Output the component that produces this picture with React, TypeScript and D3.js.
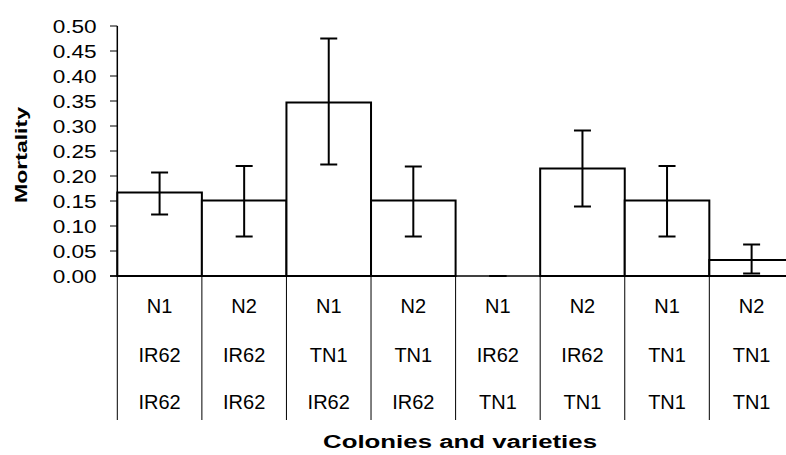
import { useEffect, useRef } from 'react'
import * as d3 from 'd3'

const colonies = ['N1', 'N2', 'N1', 'N2', 'N1', 'N2', 'N1', 'N2']
const rearedOn = ['IR62', 'IR62', 'TN1', 'TN1', 'IR62', 'IR62', 'TN1', 'TN1']
const testedOn = ['IR62', 'IR62', 'IR62', 'IR62', 'TN1', 'TN1', 'TN1', 'TN1']
const mortality = [0.167, 0.151, 0.347, 0.151, 0, 0.215, 0.151, 0.032]
const lower = [0.123, 0.079, 0.223, 0.079, 0, 0.139, 0.079, 0.005]
const upper = [0.207, 0.22, 0.475, 0.219, 0, 0.291, 0.22, 0.063]
const yTicks = [0, 0.05, 0.1, 0.15, 0.2, 0.25, 0.3, 0.35, 0.4, 0.45, 0.5]

const W = 786
const H = 455
const FONT = '"Liberation Sans", Arial, sans-serif'

export default function App() {
  const ref = useRef<SVGSVGElement>(null)

  useEffect(() => {
    const el = ref.current
    if (!el) return
    const svg = d3.select(el)
    svg.selectAll('*').remove()

    const x = d3.scaleBand<number>().domain(d3.range(colonies.length)).range([117.3, 793.9]).padding(0)
    const y = d3.scaleLinear().domain([0, 0.5]).range([276, 26])
    const x0 = 117.3

    // bars
    svg.append('g').selectAll('rect').data(mortality).join('rect')
      .attr('x', (_, i) => x(i)!)
      .attr('y', d => y(d))
      .attr('width', x.bandwidth())
      .attr('height', d => y(0) - y(d))
      .attr('fill', '#fff').attr('stroke', '#000').attr('stroke-width', 2)

    // table lines below the axis
    const bounds = d3.range(colonies.length).map(i => x(i)!)
    svg.append('g').selectAll('line').data(bounds).join('line')
      .attr('x1', d => d).attr('x2', d => d)
      .attr('y1', y(0)).attr('y2', 420)
      .attr('stroke', '#000').attr('stroke-width', 1)

    // y axis
    svg.append('line').attr('x1', x0).attr('x2', x0).attr('y1', y(0.5)).attr('y2', y(0))
      .attr('stroke', '#000').attr('stroke-width', 1.5)
    svg.append('line').attr('x1', 110).attr('x2', W).attr('y1', y(0)).attr('y2', y(0))
      .attr('stroke', '#000').attr('stroke-width', 1.5)

    const ticks = svg.append('g')
    ticks.selectAll('line').data(yTicks).join('line')
      .attr('x1', 110).attr('x2', x0).attr('y1', d => y(d)).attr('y2', d => y(d))
      .attr('stroke', '#000').attr('stroke-width', 1)
    ticks.selectAll('text').data(yTicks).join('text')
      .attr('x', 96.7).attr('y', d => y(d) + 6.5)
      .attr('text-anchor', 'end')
      .attr('font-family', FONT).attr('font-size', 18.5)
      .attr('textLength', 44).attr('lengthAdjust', 'spacingAndGlyphs')
      .text(d => d3.format('.2f')(d))

    // error bars
    const err = svg.append('g').attr('stroke', '#000').attr('stroke-width', 2)
    mortality.forEach((_, i) => {
      const cx = x(i)! + x.bandwidth() / 2
      err.append('line').attr('x1', cx).attr('x2', cx).attr('y1', y(lower[i])).attr('y2', y(upper[i]))
      err.append('line').attr('x1', cx - 8.5).attr('x2', cx + 8.5).attr('y1', y(lower[i])).attr('y2', y(lower[i]))
      err.append('line').attr('x1', cx - 8.5).attr('x2', cx + 8.5).attr('y1', y(upper[i])).attr('y2', y(upper[i]))
    })

    // category labels
    const rows = [colonies, rearedOn, testedOn]
    const rowY = [313, 362, 409]
    rows.forEach((labels, r) => {
      svg.append('g').selectAll('text').data(labels).join('text')
        .attr('x', (_, i) => x(i)! + x.bandwidth() / 2)
        .attr('y', rowY[r])
        .attr('text-anchor', 'middle')
        .attr('font-family', FONT).attr('font-size', 20)
        .text(d => d)
    })

    // axis titles
    svg.append('text')
      .attr('transform', 'translate(27,155) rotate(-90)')
      .attr('text-anchor', 'middle')
      .attr('font-family', FONT).attr('font-size', 17).attr('font-weight', 'bold')
      .attr('textLength', 96).attr('lengthAdjust', 'spacingAndGlyphs')
      .text('Mortality')
    svg.append('text')
      .attr('x', 460).attr('y', 448)
      .attr('text-anchor', 'middle')
      .attr('font-family', FONT).attr('font-size', 18).attr('font-weight', 'bold')
      .attr('textLength', 274).attr('lengthAdjust', 'spacingAndGlyphs')
      .text('Colonies and varieties')
  }, [])

  return (
    <div style={{ position: 'absolute', left: 0, top: 0, width: W, height: H, overflow: 'hidden', background: '#fff' }}>
      <svg ref={ref} width={W} height={H} style={{ display: 'block' }}></svg>
    </div>
  )
}
